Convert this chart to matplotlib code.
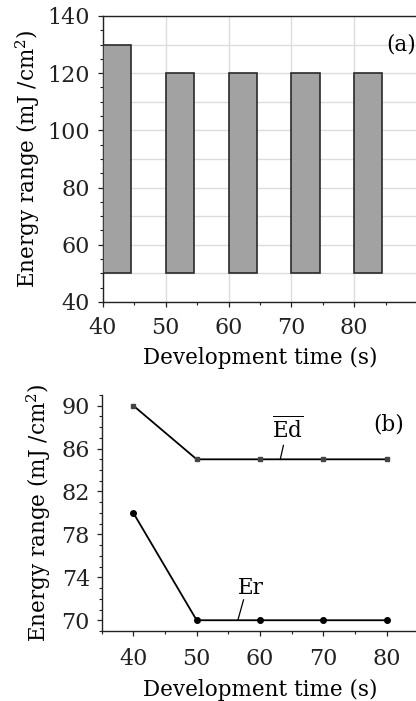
import matplotlib
matplotlib.use("Agg")
import matplotlib.pyplot as plt
from matplotlib.ticker import MultipleLocator

# development time (s) and energy window (mJ/cm^2)
dev_time = [40, 50, 60, 70, 80]
range_low = [50, 50, 50, 50, 50]
range_high = [130, 120, 120, 120, 120]

# panel (b) series
ed_mean = [90, 85, 85, 85, 85]
er_vals = [80, 70, 70, 70, 70]

plt.rcParams["font.family"] = ["DejaVu Serif"]
plt.rcParams["mathtext.fontset"] = "dejavuserif"
FS_TICK = 16
FS_LAB = 15.5

fig = plt.figure(figsize=(4.16, 7.01), dpi=100)

# ---- panel (a): bars
ax1 = fig.add_axes([0.2476, 0.5692, 0.7548, 0.408])
heights = [h - l for h, l in zip(range_high, range_low)]
ax1.bar(dev_time, heights, bottom=range_low, width=4.5, align="edge",
        color="#a2a2a2", edgecolor="#2a2a2a", linewidth=1.2, zorder=3)
ax1.set_xlim(40, 90)
ax1.set_ylim(40, 140)
ax1.set_xticks([40, 50, 60, 70, 80])
ax1.xaxis.set_minor_locator(MultipleLocator(5))
ax1.set_yticks(range(40, 141, 20))
ax1.yaxis.set_minor_locator(MultipleLocator(5))
ax1.grid(True, which="major", color="#dcdcdc", linewidth=1.0, zorder=0)
for y in range(50, 140, 20):
    ax1.axhline(y, color="#dcdcdc", linewidth=1.0, zorder=0)
ax1.set_axisbelow(True)
ax1.set_xlabel("Development time (s)", fontsize=FS_LAB, labelpad=6)
ax1.set_ylabel("Energy range (mJ /cm$^2$)", fontsize=FS_LAB, labelpad=4)
ax1.text(87.5, 130, "(a)", fontsize=FS_LAB, ha="center", va="center")

# ---- panel (b): lines
ax2 = fig.add_axes([0.2445, 0.0999, 0.761, 0.3367])
ax2.plot(dev_time, ed_mean, color="black", linewidth=1.3, marker="s",
         markersize=3, markerfacecolor="#444444", markeredgecolor="#444444")
ax2.plot(dev_time, er_vals, color="black", linewidth=1.3, marker="o",
         markersize=4, markerfacecolor="black")
ax2.set_xlim(35, 85)
ax2.set_ylim(69, 91)
ax2.set_xticks([40, 50, 60, 70, 80])
ax2.xaxis.set_minor_locator(MultipleLocator(5))
ax2.set_yticks([70, 74, 78, 82, 86, 90])
ax2.yaxis.set_minor_locator(MultipleLocator(1))
ax2.spines["top"].set_visible(False)
ax2.spines["right"].set_visible(False)
ax2.set_xlabel("Development time (s)", fontsize=FS_LAB, labelpad=6)
ax2.set_ylabel("Energy range (mJ /cm$^2$)", fontsize=FS_LAB, labelpad=6)

ax2.text(64.4, 87.75, r"$\overline{\mathrm{Ed}}$", fontsize=FS_LAB, ha="center", va="center")
ax2.plot([63.7, 63.2], [86.3, 85], color="black", linewidth=0.9)
ax2.text(58.5, 73.0, "Er", fontsize=FS_LAB, ha="center", va="center")
ax2.plot([57.4, 56.5], [71.9, 70], color="black", linewidth=0.9)
ax2.text(80.3, 88.2, "(b)", fontsize=FS_LAB, ha="center", va="center")

for ax in (ax1, ax2):
    for s in ax.spines.values():
        s.set_linewidth(1.0)
        s.set_color("#222222")
    ax.tick_params(which="major", direction="out", length=3.5, width=0.9,
                   labelsize=FS_TICK, colors="#222222")
    ax.tick_params(which="minor", direction="out", length=2, width=0.8,
                   colors="#222222")
ax1.tick_params(axis="y", which="major", pad=6)
ax1.tick_params(axis="x", which="major", pad=7)
ax2.tick_params(axis="y", which="major", pad=5)
ax2.tick_params(axis="x", which="major", pad=9)

fig.savefig("out.png", dpi=100)
